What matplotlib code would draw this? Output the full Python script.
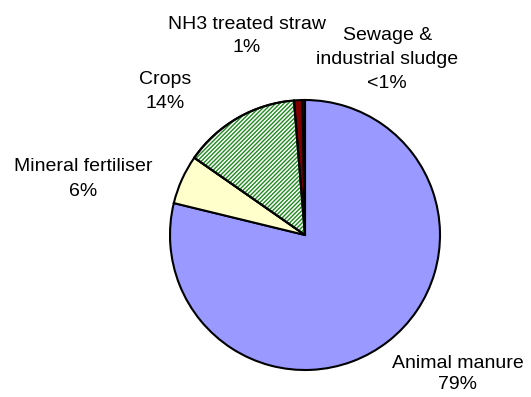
import matplotlib.pyplot as plt
from matplotlib.patches import Wedge

plt.rcParams['font.family'] = ['Liberation Sans', 'DejaVu Sans']
plt.rcParams['hatch.linewidth'] = 1.0

# nitrogen sources, drawn clockwise from 12 o'clock
sources = ['Animal manure', 'Mineral fertiliser', 'Crops', 'NH3 treated straw',
           'Sewage &\nindustrial sludge']
shares = [78.8, 5.9, 14.0, 1.0, 0.3]
pct_labels = ['79%', '6%', '14%', '1%', '<1%']
colors = ['#9999ff', '#ffffcc', '#ffffff', '#800000', '#800000']

# label anchor points in pie units (radius = 1)
label_pos = [(1.13, -1.03), (-1.64, 0.415), (-1.035, 1.06), (-0.43, 1.475), (0.61, 1.30)]
label_spacing = [1.35, 1.55, 1.55, 1.5, 1.55]

fig = plt.figure(figsize=(5.31, 3.97), dpi=100)
cx, cy, r = 305, 235, 135
ax = fig.add_axes([(cx - r) / 531, (397 - cy - r) / 397, 2 * r / 531, 2 * r / 397])

wedges, _ = ax.pie(shares, colors=colors, startangle=90, counterclock=False,
                   radius=1, wedgeprops=dict(edgecolor='black', linewidth=1.5))

# crops slice gets a fine green diagonal hatch
w = wedges[2]
ax.add_patch(Wedge(w.center, w.r, w.theta1, w.theta2, facecolor='none',
                   edgecolor='#1f8a1f', hatch='////////', linewidth=0, zorder=w.get_zorder() + 0.1))
ax.add_patch(Wedge(w.center, w.r, w.theta1, w.theta2, facecolor='none',
                   edgecolor='black', linewidth=1.5, zorder=w.get_zorder() + 0.2))

for name, pct, (x, y), ls in zip(sources, pct_labels, label_pos, label_spacing):
    ax.text(x, y, name + '\n' + pct, ha='center', va='center', fontsize=14,
            linespacing=ls, clip_on=False)

ax.set_xlim(-1, 1)
ax.set_ylim(-1, 1)
ax.set_aspect('equal')
ax.axis('off')

fig.savefig('out.png', dpi=100)
